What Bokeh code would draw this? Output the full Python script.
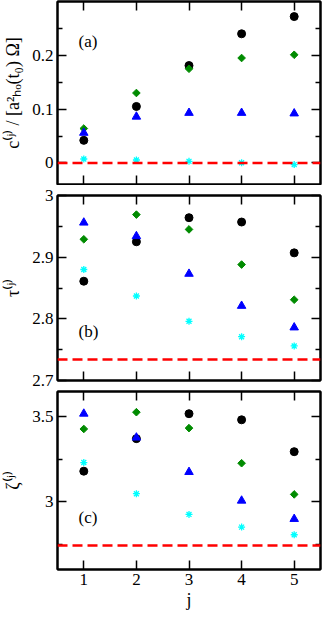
import numpy as np
from bokeh.plotting import figure
from bokeh.models import (Range1d, LinearAxis, FixedTicker, Label, Span,
                          CustomJSTickFormatter)
from bokeh.layouts import column
from bokeh.embed import file_html
from bokeh.resources import INLINE

# ---------------- data ----------------
j = [1, 2, 3, 4, 5]
x_ticks = [1, 2, 3, 4, 5]
x_tick_labels = ["1", "2", "3", "4", "5"]

# panel (a): c^(j) / [a_ho^2(t0) Omega]
c_circle = [0.042, 0.105, 0.181, 0.240, 0.272]
c_diamond = [0.064, 0.130, 0.175, 0.195, 0.201]
c_triangle = [0.056, 0.086, 0.093, 0.093, 0.092]
c_star = [0.0074, 0.0055, 0.003, 0.0005, -0.003]
c_ref = 0.0
c_ticks = [0.0, 0.1, 0.2]
c_tick_labels = ["0", "0.1", "0.2"]
c_minor = [0.05, 0.15, 0.25]

# panel (b): tau^(j)
tau_circle = [2.861, 2.925, 2.964, 2.957, 2.907]
tau_diamond = [2.929, 2.969, 2.945, 2.888, 2.831]
tau_triangle = [2.956, 2.934, 2.873, 2.821, 2.786]
tau_star = [2.880, 2.837, 2.796, 2.771, 2.756]
tau_ref = 2.734
tau_ticks = [2.7, 2.8, 2.9, 3.0]
tau_tick_labels = ["2.7", "2.8", "2.9", "3"]
tau_minor = [2.75, 2.85, 2.95]

# panel (c): zeta^(j)
zeta_circle = [3.180, 3.372, 3.519, 3.483, 3.295]
zeta_diamond = [3.429, 3.528, 3.434, 3.227, 3.043]
zeta_triangle = [3.519, 3.378, 3.175, 3.006, 2.898]
zeta_star = [3.231, 3.047, 2.925, 2.850, 2.805]
zeta_ref = 2.741
zeta_ticks = [3.0, 3.5]
zeta_tick_labels = ["3", "3.5"]
zeta_minor = [2.75, 3.25]

FONT = "'Liberation Serif', 'Times New Roman', serif"
GREEN = "#008b00"


def style_axis(ax, ticks, labels, minor, show_labels):
    ax.ticker = FixedTicker(ticks=ticks, minor_ticks=minor)
    ax.major_tick_in = 9
    ax.major_tick_out = 0
    ax.minor_tick_in = 5
    ax.minor_tick_out = 0
    ax.major_tick_line_width = 1.5
    ax.minor_tick_line_width = 1.5
    ax.major_tick_line_color = "black"
    ax.minor_tick_line_color = "black"
    ax.axis_line_width = 2
    ax.axis_line_color = "black"
    ax.major_label_text_font = FONT
    ax.major_label_text_color = "black"
    ax.axis_label_text_font = FONT
    ax.axis_label_text_font_style = "normal"
    ax.axis_label_text_font_size = "18px"
    ax.axis_label_text_color = "black"
    if show_labels:
        ax.major_label_overrides = {t: s for t, s in zip(ticks, labels)}
        ax.major_label_text_font_size = "17px"
        ax.major_label_standoff = 4
    else:
        ax.formatter = CustomJSTickFormatter(code="return ''")
        ax.major_label_text_font_size = "1px"
        ax.major_label_standoff = 0


def make_panel(ymin, ymax, yt, ytl, ymin_t, ylabel, circ, diam, tri, star, ref,
               tag, tag_y, height, btop, bbot, show_x):
    p = figure(width=324, height=height, x_range=Range1d(0.5, 5.5),
               y_range=Range1d(ymin, ymax), output_backend="svg",
               toolbar_location=None, min_border_left=54, min_border_right=4,
               min_border_top=btop, min_border_bottom=bbot)
    p.xgrid.visible = False
    p.ygrid.visible = False
    p.outline_line_color = "black"
    p.outline_line_width = 2
    p.background_fill_color = "white"
    p.border_fill_color = "white"

    style_axis(p.xaxis[0], x_ticks, x_tick_labels, [], show_x)
    style_axis(p.yaxis[0], yt, ytl, ymin_t, True)
    p.yaxis[0].axis_label = ylabel
    p.yaxis[0].axis_label_standoff = 6
    if show_x:
        p.xaxis[0].axis_label = "j"
        p.xaxis[0].axis_label_standoff = 2

    ra = LinearAxis()
    style_axis(ra, yt, ytl, ymin_t, False)
    p.add_layout(ra, "right")
    ta = LinearAxis()
    style_axis(ta, x_ticks, x_tick_labels, [], False)
    p.add_layout(ta, "above")

    p.add_layout(Span(location=ref, dimension="width", line_color="#ff0000",
                      line_width=2.5, line_dash="10 5"))

    p.scatter(j, circ, marker="circle", size=8, color="black")
    p.scatter(j, diam, marker="square", size=5.4, angle=np.pi / 4, color=GREEN)
    p.scatter(j, tri, marker="triangle", size=8.5, color="#0000ff")
    p.scatter(j, star, marker="asterisk", size=7, line_color="#00ffff",
              line_width=1.3)

    p.add_layout(Label(x=0.9, y=tag_y, text=tag, text_baseline="middle",
                       text_font=FONT, text_font_size="17px",
                       text_color="black"))
    return p


pa = make_panel(-0.04, 0.3, c_ticks, c_tick_labels, c_minor,
                "c⁽ʲ⁾ / [a²ₕₒ(t₀) Ω]", c_circle, c_diamond, c_triangle, c_star,
                c_ref, "(a)", 0.226, 185, 1, 1, False)
pb = make_panel(2.7, 3.0, tau_ticks, tau_tick_labels, tau_minor,
                "τ⁽ʲ⁾", tau_circle, tau_diamond, tau_triangle, tau_star,
                tau_ref, "(b)", 2.780, 205, 10, 10, False)
pc = make_panel(2.6, 3.65, zeta_ticks, zeta_tick_labels, zeta_minor,
                "ζ⁽ʲ⁾", zeta_circle, zeta_diamond, zeta_triangle, zeta_star,
                zeta_ref, "(c)", 2.906, 222, 1, 38, True)

layout = column(pa, pb, pc)
open("out.html", "w").write(file_html(layout, INLINE))
